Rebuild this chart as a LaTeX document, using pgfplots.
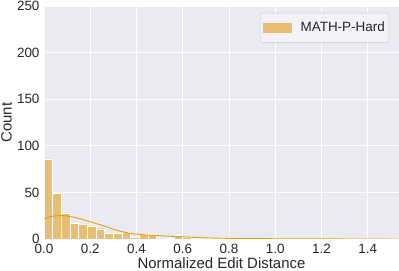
\documentclass[border=0pt]{standalone}
\usepackage{pgfplots}
\pgfplotsset{compat=1.18}
\usepackage{fontspec}
\setmainfont{Liberation Sans}
\definecolor{bgc}{RGB}{234,234,242}
\definecolor{barc}{RGB}{232,190,115}
\definecolor{linec}{RGB}{230,159,20}
\begin{document}
\begin{tikzpicture}
\begin{axis}[
  scale only axis,
  width=355bp, height=233bp,
  xmin=0, xmax=1.535, ymin=0, ymax=250,
  axis background/.style={fill=bgc},
  axis line style={draw=none},
  major tick length=0pt,
  grid=major,
  major grid style={white, line width=0.9bp},
  xtick={0,0.2,0.4,0.6,0.8,1.0,1.2,1.4},
  ytick={0,50,100,150,200,250},
  /pgf/number format/assume math mode=true,
  xticklabel style={/pgf/number format/fixed, /pgf/number format/fixed zerofill, /pgf/number format/precision=1, yshift=-2bp},
  yticklabel style={/pgf/number format/fixed, /pgf/number format/precision=0, xshift=-1bp},
  tick label style={font=\fontsize{13.5}{16}\selectfont, text=black!85},
  label style={font=\fontsize{15}{18}\selectfont, text=black!85},
  xlabel={Normalized Edit Distance},
  ylabel={Count},
  xlabel style={at={(axis description cs:0.5,-0.103)}, anchor=center},
  ylabel style={at={(axis description cs:-0.1056,0.5)}, anchor=center},
  legend style={at={(1,1)}, anchor=north east, xshift=-10bp, yshift=-7bp,
    fill=white!40!bgc, draw=black!20, rounded corners=2bp,
    font=\fontsize{13.5}{16}\selectfont, text=black!85,
    inner xsep=2bp, inner ysep=7bp},
  legend cell align=left,
]
\addplot[ybar interval, fill=barc, draw=white, line width=0.4bp, forget plot] coordinates {
(0.00000,86) (0.03744,49) (0.07488,28) (0.11232,17) (0.14976,16)
(0.18720,14) (0.22464,11) (0.26208,6) (0.29952,6) (0.33696,7)
(0.37440,2) (0.41184,5) (0.44928,5) (0.48672,0) (0.52416,1)
(0.56160,4) (0.59904,2) (0.63648,1) (0.67392,0) (0.71136,1)
(0.74880,1) (0.78624,0) (0.82368,1) (0.86112,1) (0.89856,0)
(0.93600,0) (0.97344,0) (1.01088,0) (1.04832,0) (1.08576,0)
(1.12320,0) (1.16064,0) (1.19808,0) (1.23552,0) (1.27296,0)
(1.31040,0) (1.34784,0) (1.38528,0) (1.42272,0) (1.46016,0)
(1.49760,1) (1.53504,1)
};
\addplot[linec, line width=0.9bp, smooth, forget plot] coordinates {
(0.00,22) (0.02,23.5) (0.04,24.5) (0.06,25) (0.08,25.1) (0.10,24.6)
(0.12,23.8) (0.14,22.7) (0.16,21.5) (0.18,20) (0.20,18.5) (0.22,17)
(0.24,15.5) (0.26,14) (0.28,12.3) (0.30,10.5) (0.32,9) (0.34,7.7)
(0.36,6.7) (0.38,5.9) (0.40,5.2) (0.45,4.2) (0.50,3.5) (0.55,2.9)
(0.60,2.3) (0.65,1.7) (0.70,1.2) (0.75,0.9) (0.80,0.7) (0.90,0.45)
(1.00,0.3) (1.10,0.2) (1.20,0.1) (1.30,0.05) (1.40,0.03) (1.535,0.01)
};
\addlegendimage{legend image code/.code={\fill[barc, sharp corners] (0bp,-4.5bp) rectangle (28bp,4.5bp); \path (-1bp,0bp) (35bp,0bp);}}
\addlegendentry{MATH-P-Hard}
\end{axis}
\pgfresetboundingbox
\useasboundingbox (-44bp,-32bp) rectangle (355bp,239bp);
\end{tikzpicture}
\end{document}
